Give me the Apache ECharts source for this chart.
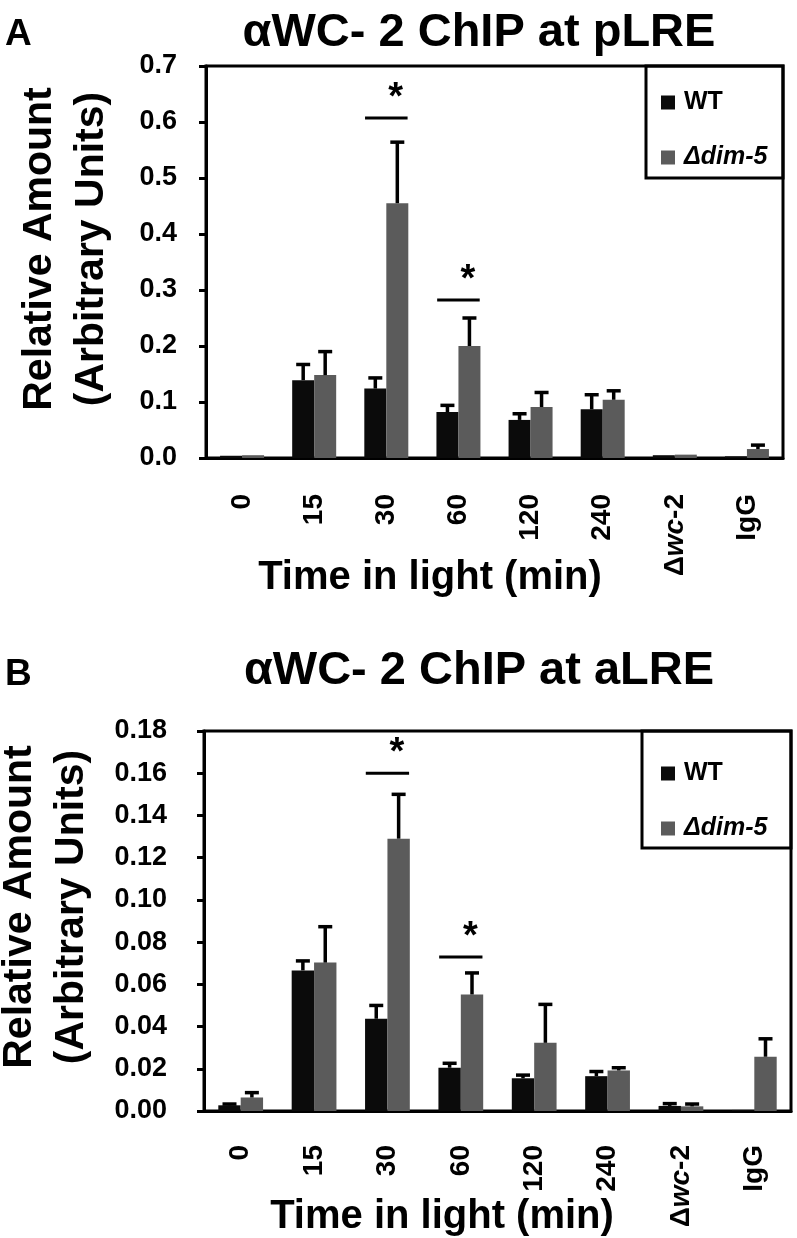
<!DOCTYPE html>
<html>
<head>
<meta charset="utf-8">
<script src="https://cdn.jsdelivr.net/npm/echarts@6/dist/echarts.min.js"></script>
<style>
html,body{margin:0;padding:0;background:#fff;}
#c{width:797px;height:1238px;}
</style>
</head>
<body>
<div id="c"></div>
<script>
// ---------- data ----------
const categories = ['0', '15', '30', '60', '120', '240', 'Δwc-2', 'IgG'];
const seriesNames = ['WT', 'Δdim-5'];

// Panel A: pLRE
const pLRE_WT      = [0.004, 0.139, 0.124, 0.082, 0.068, 0.087, 0.005, 0.003];
const pLRE_WT_err  = [0.000, 0.028, 0.019, 0.012, 0.011, 0.026, 0.000, 0.000];
const pLRE_dim     = [0.005, 0.148, 0.455, 0.200, 0.091, 0.104, 0.006, 0.016];
const pLRE_dim_err = [0.000, 0.042, 0.109, 0.050, 0.026, 0.016, 0.000, 0.007];
const pLRE_sig     = [[2, 0.607], [3, 0.282]];   // [category index, bracket level]
const pLRE_ticks   = {min: 0, max: 0.7, interval: 0.1};

// Panel B: aLRE
const aLRE_WT      = [0.0027, 0.0666, 0.0437, 0.0205, 0.0155, 0.0165, 0.0024, 0.0005];
const aLRE_WT_err  = [0.0006, 0.0045, 0.0063, 0.0021, 0.0015, 0.0022, 0.0011, 0.0000];
const aLRE_dim     = [0.0064, 0.0703, 0.1290, 0.0552, 0.0323, 0.0192, 0.0022, 0.0257];
const aLRE_dim_err = [0.0023, 0.0170, 0.0210, 0.0102, 0.0182, 0.0013, 0.0011, 0.0085];
const aLRE_sig     = [[2, 0.160], [3, 0.0729]];
const aLRE_ticks   = {min: 0, max: 0.18, interval: 0.02};

// ---------- styles ----------
const FONT = '"Liberation Sans", Arial, Helvetica, sans-serif';
const BLACK = '#0b0b0b';
const GREY = '#5b5b5b';
const BAR_FRAC = 0.305;

const chart = echarts.init(document.getElementById('c'), null, {renderer: 'canvas'});

function xAxisFor(gi, margin) {
  return {
    type: 'category', gridIndex: gi, data: categories,
    axisLine: {lineStyle: {color: '#000', width: 3}},
    axisTick: {length: 8, lineStyle: {color: '#000', width: 3}},
    splitLine: {show: false},
    axisLabel: {
      rotate: 90, margin: margin, interval: 0,
      formatter: v => v === 'Δwc-2' ? '{n|Δ}{i|wc}{n|-2}' : '{n|' + v + '}',
      rich: {
        n: {fontFamily: FONT, fontSize: 28, fontWeight: 'bold', color: '#000'},
        i: {fontFamily: FONT, fontSize: 28, fontWeight: 'bold', fontStyle: 'italic', color: '#000'}
      }
    }
  };
}
function yAxisFor(gi, t, digits, margin) {
  return {
    type: 'value', gridIndex: gi, min: t.min, max: t.max, interval: t.interval,
    axisLine: {show: true, lineStyle: {color: '#000', width: 3}},
    axisTick: {show: true, length: 7, lineStyle: {color: '#000', width: 3}},
    splitLine: {show: false},
    axisLabel: {margin: margin, formatter: v => v.toFixed(digits),
      fontFamily: FONT, fontSize: 27, fontWeight: 'bold', color: '#000'}
  };
}
function barSeries(name, gi, data, color) {
  return {
    type: 'bar', name: name, xAxisIndex: gi, yAxisIndex: gi, data: data,
    barWidth: (BAR_FRAC * 100) + '%', barGap: '0%',
    itemStyle: {color: color}, silent: true, animation: false, z: 2
  };
}
function errSeries(gi, means, errs, side) {
  return {
    type: 'custom', xAxisIndex: gi, yAxisIndex: gi, silent: true, animation: false, z: 5,
    data: means.map((m, i) => [i, m, errs[i]]),
    renderItem: function (params, api) {
      const err = api.value(2);
      if (!err) return null;
      const i = api.value(0), m = api.value(1);
      const band = api.size([1, 0])[0];
      const off = side * band * BAR_FRAC / 2;
      const p0 = api.coord([i, m]);
      const p1 = api.coord([i, m + err]);
      const x = p0[0] + off;
      const st = {stroke: '#000', lineWidth: 3.5};
      return {type: 'group', children: [
        {type: 'line', shape: {x1: x, y1: p0[1], x2: x, y2: p1[1]}, style: st},
        {type: 'line', shape: {x1: x - 7, y1: p1[1], x2: x + 7, y2: p1[1]}, style: st}
      ]};
    }
  };
}
function sigSeries(gi, sig) {
  return {
    type: 'custom', xAxisIndex: gi, yAxisIndex: gi, silent: true, animation: false, z: 6,
    data: sig,
    renderItem: function (params, api) {
      const p = api.coord([api.value(0), api.value(1)]);
      const band = api.size([1, 0])[0];
      const hw = band * 0.295;
      return {type: 'group', children: [
        {type: 'line', shape: {x1: p[0] - hw, y1: p[1], x2: p[0] + hw, y2: p[1]},
          style: {stroke: '#000', lineWidth: 3}},
        {type: 'text', x: p[0] + band * 0.13, y: p[1] - 1,
          style: {text: '*', fontFamily: FONT, fontSize: 38, fontWeight: 'bold',
            fill: '#000', align: 'center', verticalAlign: 'bottom'}}
      ]};
    }
  };
}
function legendFor(top) {
  return {
    orient: 'vertical', left: 656, top: top, itemWidth: 14, itemHeight: 14, itemGap: 30,
    icon: 'rect', selectedMode: false,
    textStyle: {fontFamily: FONT, fontSize: 25, fontWeight: 'bold', color: '#000', lineHeight: 25, padding: [0, 0, 0, 4]},
    data: [{name: 'WT'}, {name: 'Δdim-5', textStyle: {fontStyle: 'italic'}}]
  };
}
function titleText(text, x, y, size, extra) {
  return Object.assign({text: text, left: x, top: y, padding: 0,
    textStyle: {fontFamily: FONT, fontSize: size, fontWeight: 'bold', color: '#000'}}, extra || {});
}

const option = {
  animation: false,
  backgroundColor: '#fff',
  title: [
    titleText('A', 5, 16, 37),
    titleText('αWC- 2 ChIP at pLRE', 479, 10, 47, {textAlign: 'center'}),
    titleText('Time in light (min)', 430, 558, 40, {textAlign: 'center'}),
    titleText('B', 5, 656, 37),
    titleText('αWC- 2 ChIP at aLRE', 479, 648, 47, {textAlign: 'center'}),
    titleText('Time in light (min)', 442, 1197, 40, {textAlign: 'center'})
  ],
  grid: [
    {left: 206, top: 66, width: 577, height: 392, show: true, borderColor: '#000', borderWidth: 3, backgroundColor: 'transparent'},
    {left: 204, top: 731, width: 587, height: 380, show: true, borderColor: '#000', borderWidth: 3, backgroundColor: 'transparent'}
  ],
  xAxis: [xAxisFor(0, 36), xAxisFor(1, 34)],
  yAxis: [yAxisFor(0, pLRE_ticks, 1, 29), yAxisFor(1, aLRE_ticks, 2, 37)],
  legend: [legendFor(85), legendFor(756)],
  graphic: [
    {type: 'rect', shape: {x: 646, y: 66, width: 137, height: 112}, style: {fill: 'none', stroke: '#000', lineWidth: 3}, z: 10},
    {type: 'rect', shape: {x: 642, y: 731, width: 149, height: 117}, style: {fill: 'none', stroke: '#000', lineWidth: 3}, z: 10},
    {type: 'text', x: 66, y: 249, rotation: Math.PI / 2,
      style: {text: 'Relative Amount\n(Arbitrary Units)', fontFamily: FONT, fontSize: 41, fontWeight: 'bold',
        lineHeight: 52, fill: '#000', align: 'center', verticalAlign: 'middle'}},
    {type: 'text', x: 46, y: 907, rotation: Math.PI / 2,
      style: {text: 'Relative Amount\n(Arbitrary Units)', fontFamily: FONT, fontSize: 41, fontWeight: 'bold',
        lineHeight: 52, fill: '#000', align: 'center', verticalAlign: 'middle'}}
  ],
  series: [
    barSeries(seriesNames[0], 0, pLRE_WT, BLACK),
    barSeries(seriesNames[1], 0, pLRE_dim, GREY),
    errSeries(0, pLRE_WT, pLRE_WT_err, -1),
    errSeries(0, pLRE_dim, pLRE_dim_err, 1),
    sigSeries(0, pLRE_sig),
    barSeries(seriesNames[0], 1, aLRE_WT, BLACK),
    barSeries(seriesNames[1], 1, aLRE_dim, GREY),
    errSeries(1, aLRE_WT, aLRE_WT_err, -1),
    errSeries(1, aLRE_dim, aLRE_dim_err, 1),
    sigSeries(1, aLRE_sig)
  ]
};
chart.setOption(option);
</script>
</body>
</html>
